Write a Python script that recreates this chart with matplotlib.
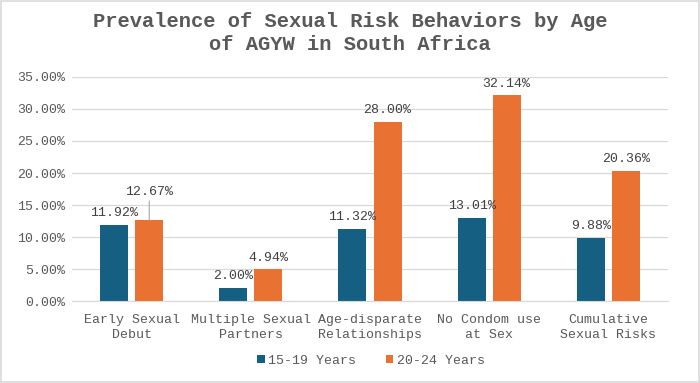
import matplotlib.pyplot as plt
import numpy as np
from matplotlib.patches import Rectangle

categories = ["Early Sexual\nDebut", "Multiple Sexual\nPartners", "Age-disparate\nRelationships",
              "No Condom use\nat Sex", "Cumulative\nSexual Risks"]
young = [11.92, 2.00, 11.32, 13.01, 9.88]
older = [12.67, 4.94, 28.00, 32.14, 20.36]
series_names = ["15-19 Years", "20-24 Years"]

blue = "#156082"
orange = "#E97132"
grey = "#595959"
font = "Liberation Mono"

fig = plt.figure(figsize=(7, 3.83), dpi=100)
ax = fig.add_axes([0.103, 0.214, 0.851, 0.585])

x = np.arange(len(categories))
w = 0.235
b1 = ax.bar(x - w / 2 - 0.03, young, w, color=blue, label=series_names[0])
b2 = ax.bar(x + w / 2 + 0.03, older, w, color=orange, label=series_names[1])

ax.set_ylim(0, 35)
ax.set_xlim(-0.5, len(categories) - 0.5)
ax.set_yticks(np.arange(0, 36, 5))
ax.set_yticklabels([f"{v:.2f}%" for v in np.arange(0, 36, 5)], family=font, fontsize=9.5, color=grey)
ax.set_xticks(x)
ax.set_xticklabels(categories, family=font, fontsize=9.5, color=grey, linespacing=1.35)
ax.tick_params(axis="x", length=0, pad=9)
ax.tick_params(axis="y", length=0, pad=5)
ax.grid(axis="y", color="#d9d9d9", linewidth=0.9)
ax.set_axisbelow(True)
for s in ["top", "right", "left"]:
    ax.spines[s].set_visible(False)
ax.spines["bottom"].set_color("#d9d9d9")

# data labels
for bars, vals in [(b1, young), (b2, older)]:
    for i, (r, v) in enumerate(zip(bars, vals)):
        cx = r.get_x() + r.get_width() / 2
        if bars is b2 and i == 0:
            ax.annotate(f"{v:.2f}%", xy=(cx, v), xytext=(cx, v + 3.4),
                        ha="center", va="bottom", family=font, fontsize=9.5, color="#404040",
                        arrowprops=dict(arrowstyle="-", color="#a6a6a6", lw=0.8, shrinkA=0, shrinkB=0))
        else:
            ax.text(cx, v + 0.9, f"{v:.2f}%", ha="center", va="bottom",
                    family=font, fontsize=9.5, color="#404040")

fig.suptitle("Prevalence of Sexual Risk Behaviors by Age\nof AGYW in South Africa",
             y=0.968, family=font, fontsize=14.8, fontweight="bold", color=grey, linespacing=1.27)

leg = fig.legend(loc="center", bbox_to_anchor=(0.53, 0.058), ncol=2, frameon=False,
                 prop={"family": font, "size": 9.5}, handlelength=0.6, handleheight=0.6,
                 handletextpad=0.3, columnspacing=2.2)
for t in leg.get_texts():
    t.set_color(grey)

fig.patches.append(Rectangle((0.001, 0.002), 0.997, 0.995, transform=fig.transFigure,
                             fill=False, edgecolor="#d9d9d9", linewidth=1.2))

fig.savefig("out.png", dpi=100)
